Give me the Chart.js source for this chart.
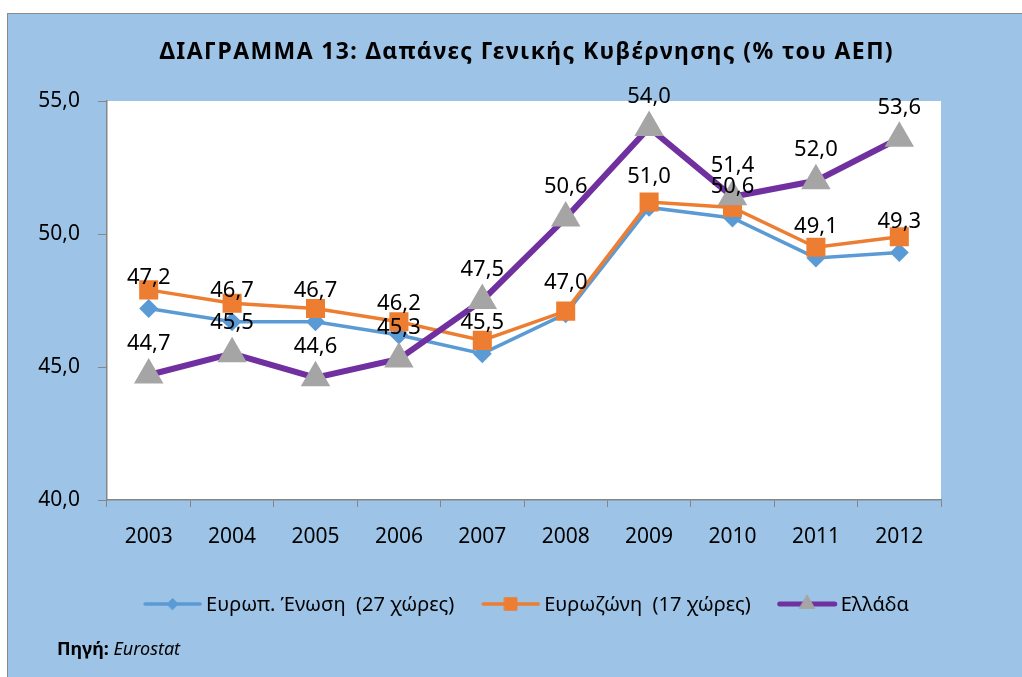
<!DOCTYPE html>
<html>
<head>
<meta charset="utf-8">
<title>ΔΙΑΓΡΑΜΜΑ 13</title>
<script src="https://cdn.jsdelivr.net/npm/chart.js@4/dist/chart.umd.min.js"></script>
<style>
  html, body { margin: 0; padding: 0; background: #fff; }
  #wrap { width: 1022px; height: 677px; }
</style>
</head>
<body>
<div id="wrap"><canvas id="chart" width="1022" height="677"></canvas></div>
<script>
// --- Data ---
const YEARS = ['2003', '2004', '2005', '2006', '2007', '2008', '2009', '2010', '2011', '2012'];
const EU27 = [47.2, 46.7, 46.7, 46.2, 45.5, 47.0, 51.0, 50.6, 49.1, 49.3];
const EUROZONE = [47.9, 47.4, 47.2, 46.7, 46.0, 47.1, 51.2, 51.0, 49.5, 49.9];
const GREECE = [44.7, 45.5, 44.6, 45.3, 47.5, 50.6, 54.0, 51.4, 52.0, 53.6];
const SERIES_NAMES = ['Ευρωπ. Ένωση  (27 χώρες)', 'Ευρωζώνη  (17 χώρες)', 'Ελλάδα'];
const Y_TICKS = [40, 45, 50, 55];

const TITLE = 'ΔΙΑΓΡΑΜΜΑ 13: Δαπάνες Γενικής Κυβέρνησης (% του ΑΕΠ)';
const FONT = '"Noto Sans", "Open Sans", sans-serif';
const AXIS_GREY = '#868686';
const fmt = v => v.toFixed(1).replace('.', ',');

// --- Plugins ---
const frame = {
  id: 'frame',
  beforeDraw(chart) {
    const { ctx, chartArea: a } = chart;
    ctx.save();
    ctx.fillStyle = '#fff';
    ctx.fillRect(0, 0, chart.width, chart.height);
    ctx.fillStyle = '#9dc3e6';
    ctx.fillRect(7, 13, chart.width - 7, chart.height - 13);
    ctx.strokeStyle = '#8a8a8a';
    ctx.lineWidth = 1;
    ctx.strokeRect(7.5, 13.5, chart.width, chart.height);
    ctx.fillStyle = '#fff';
    ctx.fillRect(a.left, a.top, a.right - a.left, a.bottom - a.top);

    // title, stretched a little to the width used in the original sheet
    ctx.font = 'bold 23px ' + FONT;
    const w = ctx.measureText(TITLE).width;
    const target = 733;
    let width = w;
    if ('letterSpacing' in ctx && w < target) {
      ctx.letterSpacing = ((target - w) / (TITLE.length - 1)).toFixed(2) + 'px';
      width = target;
    }
    ctx.fillStyle = '#000';
    ctx.textAlign = 'left';
    ctx.textBaseline = 'middle';
    ctx.fillText(TITLE, 526 - width / 2, 52);
    ctx.restore();
  }
};

const valueLabels = {
  id: 'valueLabels',
  afterDatasetsDraw(chart) {
    const { ctx } = chart;
    ctx.save();
    ctx.font = '22px ' + FONT;
    ctx.fillStyle = '#000';
    ctx.textAlign = 'center';
    ctx.textBaseline = 'middle';
    chart.data.datasets.forEach((ds, i) => {
      if (!ds.showLabels) return;
      chart.getDatasetMeta(i).data.forEach((pt, j) => {
        ctx.fillText(fmt(ds.data[j]), pt.x, pt.y - 31);
      });
    });
    ctx.restore();
  }
};

const bottomLegend = {
  id: 'bottomLegend',
  afterDraw(chart) {
    const { ctx, chartArea: a } = chart;
    const lineLen = 55, gapText = 6, gapItem = 29, y = 604;
    ctx.save();
    ctx.font = '20px ' + FONT;
    const items = chart.data.datasets.map(ds => ({ ds, w: ctx.measureText(ds.label).width }));
    const total = items.reduce((s, it) => s + lineLen + gapText + it.w, 0) + gapItem * (items.length - 1);
    let x = (a.left + a.right) / 2 + 3 - total / 2;
    items.forEach(({ ds, w }) => {
      ctx.strokeStyle = ds.borderColor;
      ctx.lineWidth = Math.min(ds.borderWidth, 5);
      ctx.lineCap = 'round';
      ctx.beginPath();
      ctx.moveTo(x, y);
      ctx.lineTo(x + lineLen, y);
      ctx.stroke();
      ctx.fillStyle = ds.pointBackgroundColor;
      ctx.strokeStyle = ds.pointBackgroundColor;
      ctx.lineWidth = 1;
      Chart.helpers.drawPoint(ctx, { pointStyle: ds.pointStyle, radius: ds.pointRadius * 0.8, rotation: 0, borderWidth: 1 }, x + lineLen / 2, y);
      ctx.fillStyle = '#000';
      ctx.textAlign = 'left';
      ctx.textBaseline = 'middle';
      ctx.fillText(ds.label, x + lineLen + gapText, y + 1);
      x += lineLen + gapText + w + gapItem;
    });
    // source note
    ctx.font = 'bold 18px ' + FONT;
    ctx.fillText('Πηγή:', 57, 650);
    const sw = ctx.measureText('Πηγή: ').width;
    ctx.font = 'italic 18px ' + FONT;
    ctx.fillText('Eurostat', 57 + sw, 650);
    ctx.restore();
  }
};

// --- Chart ---
new Chart(document.getElementById('chart'), {
  type: 'line',
  data: {
    labels: YEARS,
    datasets: [
      { label: SERIES_NAMES[0], data: EU27, showLabels: true, order: 2,
        borderColor: '#5b9bd5', borderWidth: 3.5, pointStyle: 'rectRot', pointRadius: 7,
        pointBackgroundColor: '#5b9bd5', pointBorderColor: '#5b9bd5', tension: 0 },
      { label: SERIES_NAMES[1], data: EUROZONE, order: 1,
        borderColor: '#ed7d31', borderWidth: 3.5, pointStyle: 'rect', pointRadius: 11,
        pointBackgroundColor: '#ed7d31', pointBorderColor: '#ed7d31', tension: 0 },
      { label: SERIES_NAMES[2], data: GREECE, showLabels: true, order: 0,
        borderColor: '#7030a0', borderWidth: 6, pointStyle: 'triangle', pointRadius: 11,
        pointBackgroundColor: '#a5a5a5', pointBorderColor: '#a5a5a5', tension: 0 }
    ]
  },
  options: {
    responsive: false,
    animation: false,
    layout: { padding: { left: 0, right: 81, top: 101, bottom: 0 } },
    plugins: {
      legend: { display: false },
      tooltip: { enabled: false },
      title: { display: false }
    },
    scales: {
      x: {
        offset: true,
        grid: { offset: true, drawOnChartArea: false, drawTicks: true, tickLength: 7, color: AXIS_GREY },
        border: { color: AXIS_GREY, width: 1.5 },
        ticks: { color: '#000', padding: 17, font: { family: FONT, size: 21 } },
        afterFit: s => { s.height = 177; }
      },
      y: {
        min: 40, max: 55,
        afterBuildTicks: s => { s.ticks = Y_TICKS.map(v => ({ value: v })); },
        grid: { drawOnChartArea: false, drawTicks: true, tickLength: 9, color: AXIS_GREY },
        border: { color: AXIS_GREY, width: 1.5 },
        ticks: { color: '#000', padding: 18, font: { family: FONT, size: 21 }, callback: v => fmt(v) },
        afterFit: s => { s.width = 107; }
      }
    }
  },
  plugins: [frame, valueLabels, bottomLegend]
});
</script>
</body>
</html>
